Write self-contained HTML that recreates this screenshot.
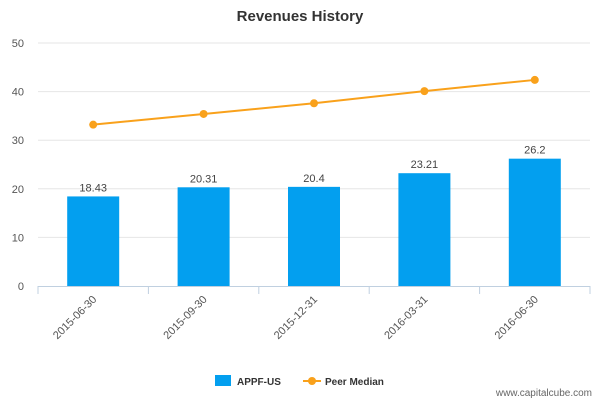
<!DOCTYPE html>
<html><head><meta charset="utf-8"><style>
body{margin:0;background:#fff;font-family:"Liberation Sans",sans-serif;}
svg text{font-family:"Liberation Sans",sans-serif;}
</style></head><body>
<svg width="600" height="400">
<text x="300" y="21" text-anchor="middle" font-size="15" font-weight="bold" fill="#333">Revenues History</text>
<g id="yaxis"></g>
<g id="xaxis"></g>
<g id="bars"></g>
<g id="line"></g>
<g>
<g><rect x="215" y="375" width="16" height="11" fill="#039fef"/><text x="237" y="385" font-size="10" font-weight="bold" fill="#333">APPF-US</text></g>
<g><line x1="303" y1="381" x2="321" y2="381" stroke="#f9a11b" stroke-width="2"/><circle cx="312" cy="381" r="4" fill="#f9a11b"/><text x="325" y="385" font-size="10" font-weight="bold" fill="#333">Peer Median</text></g>
</g>
<text x="592" y="396" text-anchor="end" font-size="10" fill="#666">www.capitalcube.com</text>
</svg>
<script>
const categories=["2015-06-30","2015-09-30","2015-12-31","2016-03-31","2016-06-30"];
const appfValues=[18.43,20.31,20.4,23.21,26.2];
const appfLabels=["18.43","20.31","20.4","23.21","26.2"];
const peerValues=[33.2,35.4,37.6,40.1,42.4];
const yTicks=[0,10,20,30,40,50];
const NS="http://www.w3.org/2000/svg";
const x0=38,x1=590,yBase=286,yTop=43,yMax=50;
const band=(x1-x0)/categories.length;
const xc=i=>x0+band*(i+0.5);
const ys=v=>yBase-(v/yMax)*(yBase-yTop);
function mk(t,a,p){const e=document.createElementNS(NS,t);for(const k in a)e.setAttribute(k,a[k]);p.appendChild(e);return e;}
const ya=document.getElementById('yaxis'),xa=document.getElementById('xaxis'),bg=document.getElementById('bars'),lg=document.getElementById('line');
yTicks.forEach(v=>{
 if(v>0){const g=mk('line',{x1:x0,x2:x1,y1:ys(v),y2:ys(v),stroke:'#e6e6e6'},ya);
 
 }
 const t=mk('text',{x:24,y:ys(v)+4,'text-anchor':'end','font-size':'11',fill:'#555'},ya);t.textContent=v;
 
 
});
mk('line',{x1:x0,x2:x1,y1:yBase+0.5,y2:yBase+0.5,stroke:'#c0d0e0'},xa);
categories.forEach((c,i)=>{
 mk('line',{x1:x0+band*i,x2:x0+band*i,y1:yBase,y2:yBase+8,stroke:'#c0d0e0'},xa);
 const t=mk('text',{x:xc(i)+4,y:yBase+14,'text-anchor':'end','font-size':'11',fill:'#555',transform:`rotate(-45 ${xc(i)+4} ${yBase+14})`},xa);t.textContent=c;
 
 
 const r=mk('rect',{x:xc(i)-26,y:ys(appfValues[i]),width:52,height:yBase-ys(appfValues[i]),fill:'#039fef'},bg);
 
 
 const l=mk('text',{x:xc(i),y:ys(appfValues[i])-5,'text-anchor':'middle','font-size':'11',fill:'#444'},bg);l.textContent=appfLabels[i];
 
 
});
mk('line',{x1:x1,x2:x1,y1:yBase,y2:yBase+8,stroke:'#c0d0e0'},xa);
const pl=mk('polyline',{points:peerValues.map((v,i)=>xc(i)+','+ys(v)).join(' '),fill:'none',stroke:'#f9a11b','stroke-width':2},lg);


peerValues.forEach((v,i)=>{const p=mk('circle',{cx:xc(i),cy:ys(v),r:4,fill:'#f9a11b'},lg);
 
 });
</script>
</body></html>
